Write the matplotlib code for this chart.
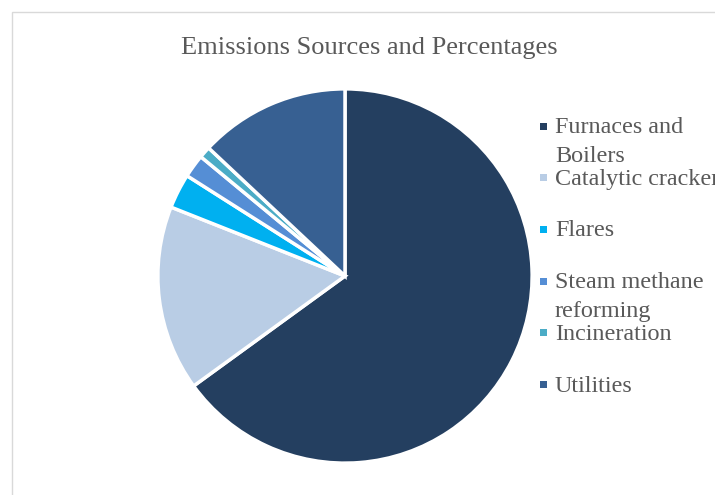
import matplotlib.pyplot as plt
from matplotlib.patches import Rectangle

# data
sources = ["Furnaces and\nBoilers", "Catalytic cracker", "Flares",
           "Steam methane\nreforming", "Incineration", "Utilities"]
shares = [65, 16, 3, 2, 1, 13]
colors = ["#243F60", "#B9CDE5", "#00B0F0", "#558ED5", "#4BACC6", "#376092"]

W, H = 715, 495
fig = plt.figure(figsize=(W / 100, H / 100), dpi=100)
plt.rcParams['font.family'] = ['Liberation Serif', 'DejaVu Serif']
text_color = "#595959"

# chart frame (left and top edges visible)
fig.patches.append(Rectangle((12 / W, -0.1), 1.2, 1.1 - 12 / H,
                             transform=fig.transFigure, fill=False,
                             edgecolor="#D9D9D9", linewidth=1.0))

# pie centred at (345, 276) px, radius ~189 px
cx, cy, r = 345, 276, 189
ax = fig.add_axes([(cx - r) / W, (H - cy - r) / H, 2 * r / W, 2 * r / H])
wedges, _ = ax.pie(shares, colors=colors, startangle=90, counterclock=False,
                   radius=1, wedgeprops=dict(edgecolor="white", linewidth=2.5))
ax.set_xlim(-1.01, 1.01)
ax.set_ylim(-1.01, 1.01)
ax.set_aspect("equal")
ax.axis("off")

fig.text(369 / W, 1 - 48 / H, "Emissions Sources and Percentages",
         ha="center", va="center", fontsize=19, color=text_color)

# legend, evenly spaced entries like the original (long labels overflow)
y0, dy, line_h = 133, 51.7, 29
for i, (lab, col) in enumerate(zip(sources, colors)):
    y = y0 + i * dy
    fig.patches.append(Rectangle((540 / W, 1 - (y - 3.5) / H), 7 / W, 7 / H,
                                 transform=fig.transFigure, facecolor=col,
                                 edgecolor="none"))
    for k, part in enumerate(lab.split("\n")):
        fig.text(555 / W, 1 - (y + k * line_h) / H, part, ha="left",
                 va="baseline", fontsize=17.4, color=text_color)

fig.savefig("out.png", dpi=100)
